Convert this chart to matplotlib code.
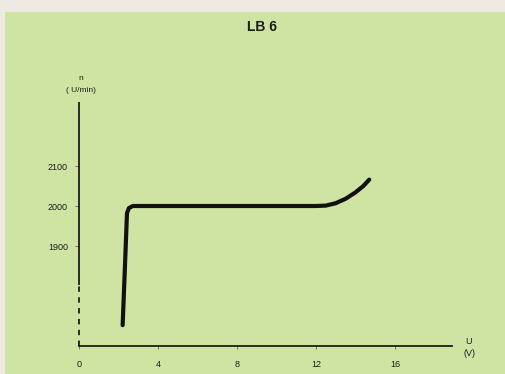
import matplotlib.pyplot as plt
from matplotlib.patches import Rectangle

# motor speed n (U/min) over supply voltage U (V)
voltage = [2.21, 2.32, 2.43, 2.53, 2.73, 4.0, 8.0, 12.0, 12.5, 13.0, 13.5,
           14.0, 14.4, 14.7]
speed = [1702, 1840, 1982, 1995, 2000, 2000, 2000, 2000, 2001, 2007, 2018,
         2034, 2050, 2066]

x_ticks = [0, 4, 8, 12, 16]
y_ticks = [1900, 2000, 2100]

GREEN_BG = "#cfe4a2"
INK = "#1c1c1c"

plt.rcParams["font.family"] = ["Liberation Sans", "DejaVu Sans"]

W, H = 505, 374
fig = plt.figure(figsize=(W / 100, H / 100), dpi=100)
fig.patch.set_facecolor("#efe9e3")
fig.add_artist(Rectangle((5 / W, 0), 1, 1 - 12 / H, transform=fig.transFigure,
                         facecolor=GREEN_BG, edgecolor="none", zorder=0))

x0, x1, y_top, y_bot = 79, 452, 102, 346
ax = fig.add_axes([x0 / W, 1 - y_bot / H, (x1 - x0) / W, (y_bot - y_top) / H])
ax.set_facecolor("none")
ax.set_xlim(0, 18.89)
ax.set_ylim(1650, 2260)

for side in ("top", "right", "left"):
    ax.spines[side].set_visible(False)
ax.spines["bottom"].set_color(INK)
ax.spines["bottom"].set_linewidth(1.3)

# broken y axis: solid above, dashed near the origin
ax.plot([0, 0], [1802, 2260], color=INK, lw=1.3, clip_on=False, solid_capstyle="butt")
ax.plot([0, 0], [1650, 1802], color=INK, lw=1.3, ls=(0, (3, 3)), clip_on=False)

ax.plot(voltage, speed, color="#111111", lw=3.0, solid_capstyle="round",
        solid_joinstyle="round")

ax.set_xticks(x_ticks)
ax.set_xticklabels([str(t) for t in x_ticks])
ax.set_yticks(y_ticks)
ax.set_yticklabels([str(t) for t in y_ticks])
ax.tick_params(axis="x", length=2, width=0.8, color="#777777", pad=8,
               labelsize=6.5, labelcolor=INK)
ax.tick_params(axis="y", length=3, width=0.8, color="#777777", pad=5,
               labelsize=6.5, labelcolor=INK)

fig.text(262 / W, 1 - 27 / H, "LB 6", ha="center", va="center", fontsize=10,
         fontweight="bold", color=INK)
fig.text(81 / W, 1 - 79 / H, "n", ha="center", va="center", fontsize=6, color=INK)
fig.text(81 / W, 1 - 91 / H, "( U/min)", ha="center", va="center", fontsize=6,
         color=INK)
fig.text(469 / W, 1 - 341 / H, "U", ha="center", va="center", fontsize=6.5,
         color=INK)
fig.text(470 / W, 1 - 354 / H, "(V)", ha="center", va="center", fontsize=6.5,
         color=INK)

fig.savefig("out.png", dpi=100, facecolor=fig.get_facecolor())
